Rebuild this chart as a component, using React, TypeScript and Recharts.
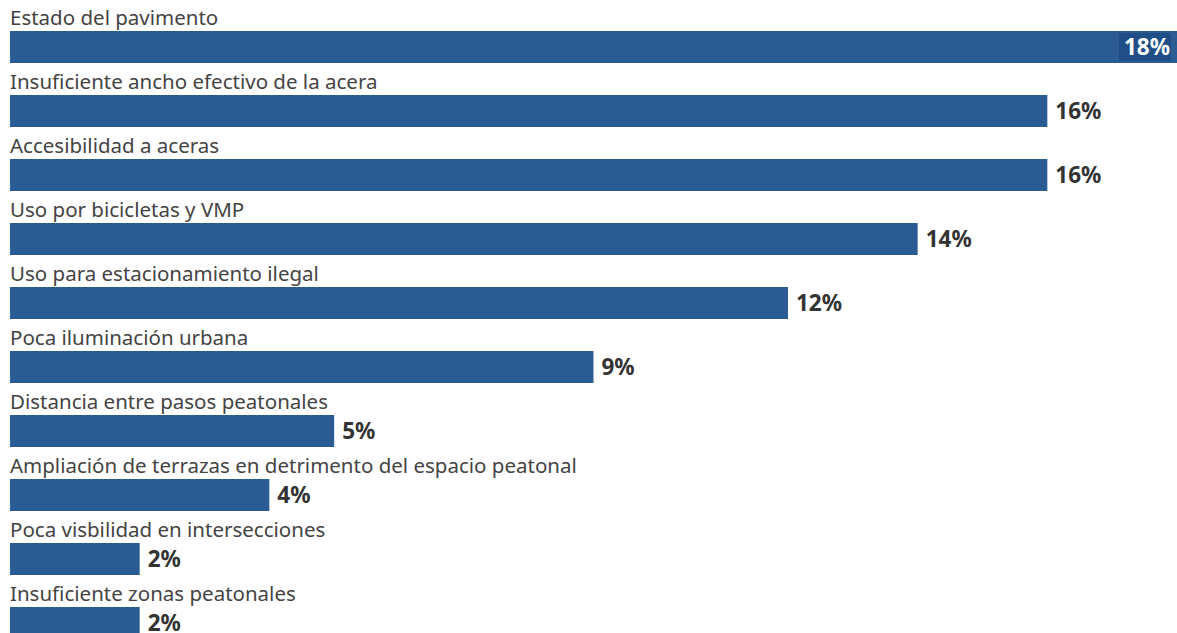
import { Bar, BarChart, LabelList, XAxis, YAxis } from "recharts";

const categories = [
  "Estado del pavimento",
  "Insuficiente ancho efectivo de la acera",
  "Accesibilidad a aceras",
  "Uso por bicicletas y VMP",
  "Uso para estacionamiento ilegal",
  "Poca iluminación urbana",
  "Distancia entre pasos peatonales",
  "Ampliación de terrazas en detrimento del espacio peatonal",
  "Poca visbilidad en intersecciones",
  "Insuficiente zonas peatonales",
];

const values = [18, 16, 16, 14, 12, 9, 5, 4, 2, 2];

const maxValue = Math.max(...values);

const chartData = categories.map((name, i) => ({ name, value: values[i] }));

const FONT = "'Noto Sans', sans-serif";

function CategoryLabel(props: any) {
  const { x, y, value } = props;
  return (
    <text
      x={Number(x)}
      y={Number(y) - 6}
      fill="#444"
      fontSize={20.5}
      fontFamily={FONT}
    >
      {value}
    </text>
  );
}

function ValueLabel(props: any) {
  const { x, y, width, height, value } = props;
  const cy = Number(y) + Number(height) / 2;
  const end = Number(x) + Number(width);
  if (value === maxValue) {
    // no room on the right: draw inside the bar
    return (
      <g>
        <rect x={end - 58} y={cy - 14} width={52} height={28} fill="#1f4f86" />
        <text
          x={end - 7}
          y={cy}
          dy="0.36em"
          textAnchor="end"
          fill="#fff"
          fontSize={22.5}
          fontWeight={700}
          fontFamily={FONT}
        >
          {`${value}%`}
        </text>
      </g>
    );
  }
  return (
    <text
      x={end + 8}
      y={cy}
      dy="0.36em"
      fill="#333"
      fontSize={22.5}
      fontWeight={700}
      fontFamily={FONT}
    >
      {`${value}%`}
    </text>
  );
}

export default function App() {
  return (
    <div
      style={{
        position: "absolute",
        top: 0,
        left: 0,
        width: 1177,
        height: 633,
        overflow: "hidden",
        background: "#fff",
      }}
    >
      <BarChart
        width={1177}
        height={655}
        data={chartData}
        layout="vertical"
        margin={{ top: 15, right: 0, left: 10, bottom: 0 }}
      >
        <XAxis type="number" domain={[0, maxValue]} hide />
        <YAxis type="category" dataKey="name" hide width={0} />
        <Bar
          dataKey="value"
          fill="#2a5c93"
          barSize={32}
          isAnimationActive={false}
        >
          <LabelList dataKey="name" content={CategoryLabel} />
          <LabelList dataKey="value" content={ValueLabel} />
        </Bar>
      </BarChart>
    </div>
  );
}
